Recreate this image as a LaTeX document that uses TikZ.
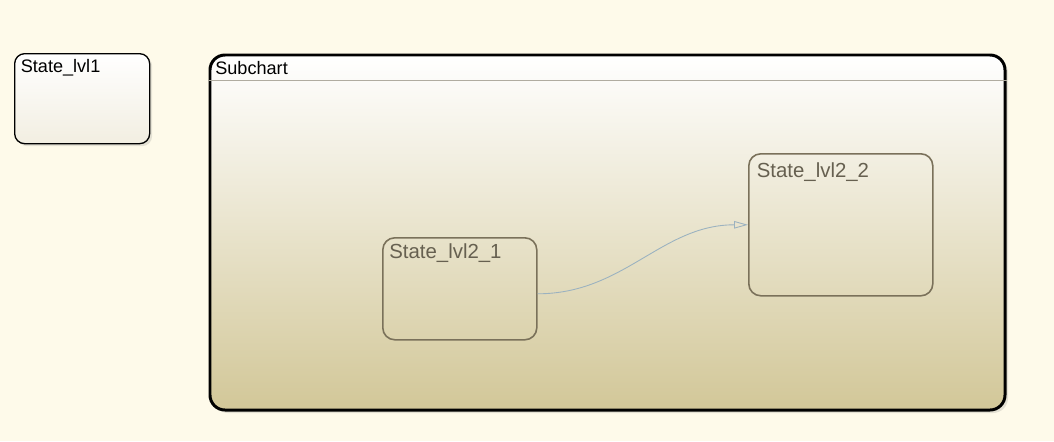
\documentclass[tikz,border=0pt]{standalone}
\usepackage{fontspec}
\setmainfont{Liberation Sans}
\usetikzlibrary{arrows.meta, shadows}

\definecolor{pagecol}{RGB}{254,250,234}
\definecolor{topbot}{RGB}{242,238,225}
\definecolor{chartbot}{RGB}{210,199,152}
\definecolor{hdrcol}{RGB}{176,172,160}
\definecolor{subline}{RGB}{122,113,90}
\definecolor{subtext}{RGB}{102,96,80}
\definecolor{transcol}{RGB}{155,178,192}

\begin{document}
\begin{tikzpicture}[
  font=\fontsize{10.3}{12}\selectfont,
  >={Triangle[open, length=0.28cm, width=0.15cm]},
  arr/.style={->, draw=transcol, line width=0.5pt},
  lbl/.style={inner sep=0pt, anchor=north west},
  topst/.style={draw, line width=0.75pt, rounded corners=0.2cm,
                top color=white, bottom color=topbot,
                minimum width=2.7cm, minimum height=1.8cm,
                drop shadow={shadow xshift=0.05cm, shadow yshift=-0.05cm, opacity=0.2}},
  chart/.style={draw, line width=1.7pt, rounded corners=0.3cm,
                top color=white, bottom color=chartbot,
                minimum width=15.9cm, minimum height=7.1cm,
                drop shadow={shadow xshift=0.06cm, shadow yshift=-0.06cm, opacity=0.2}},
  subst/.style={draw=subline, line width=0.9pt, rounded corners=0.24cm},
]

%% ===== BACKGROUND =====
\fill[pagecol] (0,0) rectangle (21.08,-8.82);

%% ===== TOP LEVEL =====
\node[topst, anchor=north west,
      label={[lbl, xshift=0.13cm, yshift=-0.13cm]north west:State\_lvl1}] (lvl1)
    at (0.28,-1.06) {};

\node[chart, anchor=north west,
      label={[lbl, xshift=0.13cm, yshift=-0.16cm]north west:Subchart}] (sub)
    at (4.17,-1.07) {};

\draw[hdrcol, line width=0.6pt] ([yshift=-0.54cm]sub.north west) -- ([yshift=-0.54cm]sub.north east);

%% ===== INSIDE SUBCHART =====
\node[subst, anchor=north west, minimum width=3.08cm, minimum height=2.04cm,
      label={[lbl, text=subtext, font=\fontsize{11.6}{14}\selectfont,
              xshift=0.14cm, yshift=-0.13cm]north west:State\_lvl2\_1}] (lvl21)
    at (7.64,-4.74) {};

\node[subst, anchor=north west, minimum width=3.68cm, minimum height=2.84cm,
      label={[lbl, text=subtext, font=\fontsize{11.6}{14}\selectfont,
              xshift=0.17cm, yshift=-0.19cm]north west:State\_lvl2\_2}] (lvl22)
    at (14.96,-3.06) {};

%% ===== TRANSITION =====
\draw[arr] ([yshift=-0.1cm]lvl21.east) to[out=0, in=180] (lvl22.west);

\end{tikzpicture}
\end{document}
